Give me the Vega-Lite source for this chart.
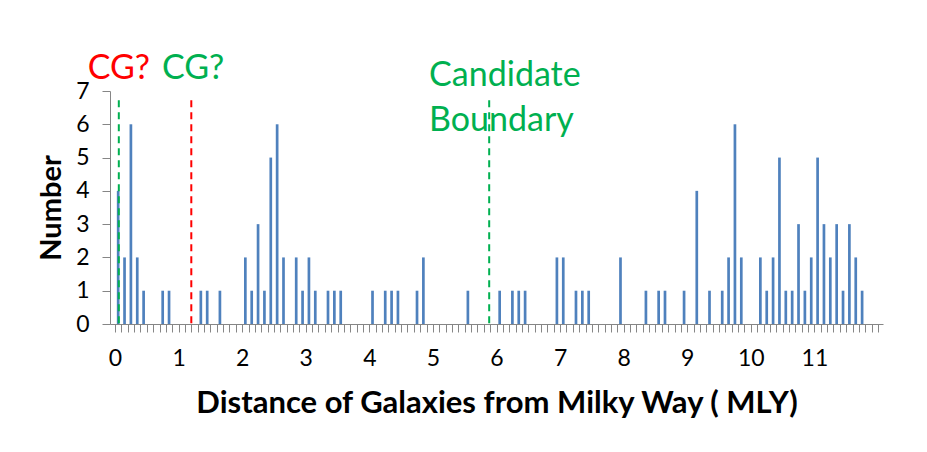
{
  "$schema": "https://vega.github.io/schema/vega-lite/v6.json",
  "autosize": {"type": "none"},
  "width": 773,
  "height": 233,
  "padding": {"left": 110, "top": 91, "right": 44, "bottom": 128},
  "background": "white",
  "config": {
    "view": {"stroke": null},
    "font": "Lato",
    "axis": {"grid": false, "domainColor": "#868686", "tickColor": "#868686", "labelColor": "#000000", "titleColor": "#000000", "labelFont": "Lato", "titleFont": "Lato", "tickSize": 8, "titleFontWeight": "bold", "labelOverlap": false},
    "axisX": {"labelFontSize": 23, "titleFontSize": 31, "titlePadding": 18, "labelPadding": 15, "labelFlush": false},
    "axisY": {"labelFontSize": 23, "titleFontSize": 29, "titlePadding": 9, "labelPadding": 13}
  },
  "datasets": {
    "bins": [
      {"d": 0.05, "n": 4}, {"d": 0.15, "n": 2}, {"d": 0.25, "n": 6}, {"d": 0.35, "n": 2}, {"d": 0.45, "n": 1},
      {"d": 0.75, "n": 1}, {"d": 0.85, "n": 1}, {"d": 1.35, "n": 1}, {"d": 1.45, "n": 1}, {"d": 1.65, "n": 1},
      {"d": 2.05, "n": 2}, {"d": 2.15, "n": 1}, {"d": 2.25, "n": 3}, {"d": 2.35, "n": 1}, {"d": 2.45, "n": 5},
      {"d": 2.55, "n": 6}, {"d": 2.65, "n": 2}, {"d": 2.85, "n": 2}, {"d": 2.95, "n": 1}, {"d": 3.05, "n": 2},
      {"d": 3.15, "n": 1}, {"d": 3.35, "n": 1}, {"d": 3.45, "n": 1}, {"d": 3.55, "n": 1}, {"d": 4.05, "n": 1},
      {"d": 4.25, "n": 1}, {"d": 4.35, "n": 1}, {"d": 4.45, "n": 1}, {"d": 4.75, "n": 1}, {"d": 4.85, "n": 2},
      {"d": 5.55, "n": 1}, {"d": 6.05, "n": 1}, {"d": 6.25, "n": 1}, {"d": 6.35, "n": 1}, {"d": 6.45, "n": 1},
      {"d": 6.95, "n": 2}, {"d": 7.05, "n": 2}, {"d": 7.25, "n": 1}, {"d": 7.35, "n": 1}, {"d": 7.45, "n": 1},
      {"d": 7.95, "n": 2}, {"d": 8.35, "n": 1}, {"d": 8.55, "n": 1}, {"d": 8.65, "n": 1}, {"d": 8.95, "n": 1},
      {"d": 9.15, "n": 4}, {"d": 9.35, "n": 1}, {"d": 9.55, "n": 1}, {"d": 9.65, "n": 2}, {"d": 9.75, "n": 6},
      {"d": 9.85, "n": 2}, {"d": 10.15, "n": 2}, {"d": 10.25, "n": 1}, {"d": 10.35, "n": 2}, {"d": 10.45, "n": 5},
      {"d": 10.55, "n": 1}, {"d": 10.65, "n": 1}, {"d": 10.75, "n": 3}, {"d": 10.85, "n": 1}, {"d": 10.95, "n": 2},
      {"d": 11.05, "n": 5}, {"d": 11.15, "n": 3}, {"d": 11.25, "n": 2}, {"d": 11.35, "n": 3}, {"d": 11.45, "n": 1},
      {"d": 11.55, "n": 3}, {"d": 11.65, "n": 2}, {"d": 11.75, "n": 1}
    ],
    "markers": [
      {"pos": 0.06, "kind": "green", "top": 6.72},
      {"pos": 1.2, "kind": "red", "top": 6.72},
      {"pos": 5.885, "kind": "green", "top": 6.72}
    ],
    "notes": [
      {"label": "CG?", "kind": "red", "px": -0.43, "py": 7.35},
      {"label": "CG?", "kind": "green", "px": 0.74, "py": 7.35},
      {"label": "Candidate", "kind": "green", "px": 4.94, "py": 7.15},
      {"label": "Boundary", "kind": "green", "px": 4.94, "py": 5.8}
    ]
  },
  "layer": [
    {
      "data": {"name": "bins"},
      "mark": {"type": "bar", "width": 2.7, "color": "#4F81BD"},
      "encoding": {
        "x": {
          "field": "d", "type": "quantitative",
          "scale": {"domain": [0, 12], "nice": false, "zero": false},
          "axis": {
            "title": "Distance of Galaxies from Milky Way ( MLY)", "tickCount": 120,
            "labelExpr": "(datum.value < 11.5 && abs(datum.value - round(datum.value)) < 0.001) ? '' + round(datum.value) : ''"
          }
        },
        "y": {
          "field": "n", "type": "quantitative",
          "scale": {"domain": [0, 7], "nice": false},
          "axis": {"title": "Number", "values": [0, 1, 2, 3, 4, 5, 6, 7]}
        }
      }
    },
    {
      "data": {"name": "markers"},
      "mark": {"type": "rule", "strokeWidth": 2, "strokeDash": [7, 5]},
      "encoding": {
        "x": {
          "field": "pos", "type": "quantitative",
          "axis": {
            "title": "Distance of Galaxies from Milky Way ( MLY)", "tickCount": 120,
            "labelExpr": "(datum.value < 11.5 && abs(datum.value - round(datum.value)) < 0.001) ? '' + round(datum.value) : ''"
          }
        },
        "y": {"field": "top", "type": "quantitative", "axis": {"title": "Number", "values": [0, 1, 2, 3, 4, 5, 6, 7]}},
        "y2": {"datum": 0},
        "color": {"field": "kind", "type": "nominal", "scale": {"domain": ["red", "green"], "range": ["#FF0000", "#00B050"]}, "legend": null}
      }
    },
    {
      "data": {"name": "notes"},
      "mark": {"type": "text", "align": "left", "baseline": "alphabetic", "fontSize": 34, "font": "Lato"},
      "encoding": {
        "x": {
          "field": "px", "type": "quantitative",
          "axis": {
            "title": "Distance of Galaxies from Milky Way ( MLY)", "tickCount": 120,
            "labelExpr": "(datum.value < 11.5 && abs(datum.value - round(datum.value)) < 0.001) ? '' + round(datum.value) : ''"
          }
        },
        "y": {"field": "py", "type": "quantitative", "axis": {"title": "Number", "values": [0, 1, 2, 3, 4, 5, 6, 7]}},
        "text": {"field": "label"},
        "color": {"field": "kind", "type": "nominal", "scale": {"domain": ["red", "green"], "range": ["#FF0000", "#00B050"]}, "legend": null}
      }
    }
  ]
}
